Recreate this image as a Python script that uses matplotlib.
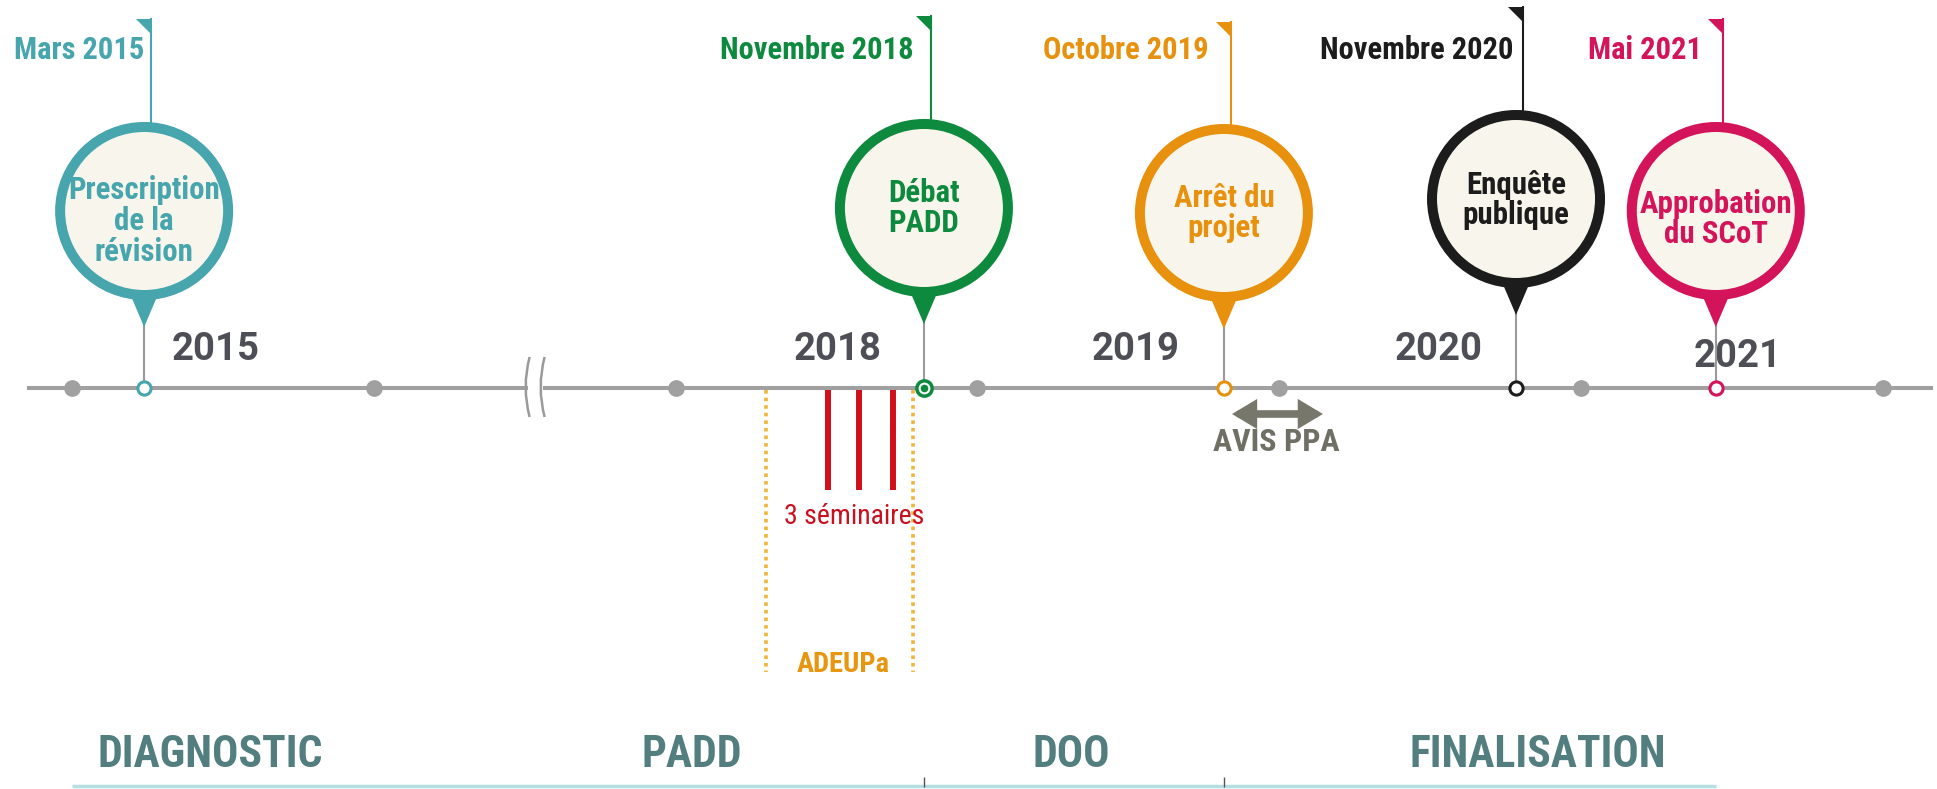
import matplotlib
matplotlib.use('Agg')
import matplotlib.pyplot as plt
from matplotlib import font_manager
from matplotlib.patches import Ellipse, Polygon, FancyArrowPatch, PathPatch
from matplotlib.path import Path

plt.rcParams['font.family'] = ['Roboto', 'DejaVu Sans']

# the original uses a condensed face; use it when installed
installed = {f.name for f in font_manager.fontManager.ttflist}
HAS_COND = 'Roboto Condensed' in installed
COND = ['Roboto Condensed', 'Roboto', 'DejaVu Sans'] if HAS_COND else ['Roboto', 'DejaVu Sans']


def fs(cond_size, reg_size):
    return cond_size if HAS_COND else reg_size


# positions along the timeline, 1 unit = distance between two grey year dots
year_dots = [0, 1, 2, 3, 4, 5, 6]
timeline_span = [-0.149, 6.166]
break_pos = 1.533

years = ['2015', '2018', '2019', '2020', '2021']
year_pos = [0.477, 2.538, 3.524, 4.527, 5.518]

events = ['Prescription\nde la\nrévision', 'Débat\nPADD', 'Arrêt du\nprojet',
          'Enquête\npublique', 'Approbation\ndu SCoT']
event_dates = ['Mars 2015', 'Novembre 2018', 'Octobre 2019', 'Novembre 2020', 'Mai 2021']
event_pos = [0.239, 2.823, 3.817, 4.785, 5.447]
event_colors = ['#46a5ad', '#0e8a3e', '#e8910e', '#1c1c1c', '#d4145a']
event_marker = ['open', 'dot', 'open', 'open', 'open']

seminar_pos = [2.505, 2.608, 2.720]
adeupa_span = [2.300, 2.787]
avis_ppa_span = [3.844, 4.145]

phases = ['DIAGNOSTIC', 'PADD', 'DOO', 'FINALISATION']
phase_pos = [0.457, 2.053, 3.310, 4.858]
phase_span = [0.0, 5.447]
phase_ticks = [2.823, 3.817]

# layout (vertical positions in pixels from the top)
W, H = 1937, 789
XMIN, XMAX = -0.2386, 6.18
ux = (XMAX - XMIN) / W          # x units per pixel
LINE_Y = 388
year_y = [360, 360, 360, 360, 367]
circle_y = [211, 208, 213, 199, 211]
text_dy = [10, 0, 0, 1, 8]
flag_top = [19, 16, 22, 7, 19]
date_gap = [7, 17, 22, 10, 21]
R = 84
grey = '#a0a0a0'

fig = plt.figure(figsize=(W / 100, H / 100), dpi=100)
ax = fig.add_axes([0, 0, 1, 1])
ax.set_xlim(XMIN, XMAX)
ax.set_ylim(H, 0)
ax.axis('off')

# main line with the break
ax.plot([timeline_span[0], break_pos - 7 * ux], [LINE_Y, LINE_Y], color=grey, lw=2.9, solid_capstyle='butt', zorder=2)
ax.plot([break_pos + 8 * ux, timeline_span[1]], [LINE_Y, LINE_Y], color=grey, lw=2.9, solid_capstyle='butt', zorder=2)
for bx in [break_pos - 7 * ux, break_pos + 8 * ux]:
    p = Path([(bx + 2 * ux, 357), (bx - 6 * ux, 387), (bx + 2 * ux, 417)],
             [Path.MOVETO, Path.CURVE3, Path.CURVE3])
    ax.add_patch(PathPatch(p, fc='none', ec='#9a9a9a', lw=1.8, zorder=3))

ax.plot(year_dots, [LINE_Y] * len(year_dots), 'o', ms=11, color=grey, zorder=3)

for yr, xp, yy in zip(years, year_pos, year_y):
    ax.text(xp, yy, yr, ha='center', va='baseline', fontsize=27.5, weight='bold', color='#4e4e56', zorder=2)

# events
for i in range(len(events)):
    x = event_pos[i]
    c = event_colors[i]
    cy = circle_y[i]
    pole_x = x + 7 * ux
    ax.plot([pole_x, pole_x], [flag_top[i], cy - R], color=c, lw=1.5, zorder=3)
    ax.add_patch(Polygon([(pole_x - 15 * ux, flag_top[i]), (pole_x + 1 * ux, flag_top[i]),
                          (pole_x + 1 * ux, flag_top[i] + 16)], closed=True, color=c, lw=0, zorder=3))
    ax.text(pole_x - date_gap[i] * ux, 59, event_dates[i], ha='right', va='baseline',
            fontsize=fs(22, 19.5), weight='bold', color=c, family=COND)
    # stem down to the line
    ax.plot([x, x], [cy + 110, LINE_Y], color='#9a9a9a', lw=1.5, zorder=4)
    # pin
    ax.add_patch(Polygon([(x - 17 * ux, cy + 76), (x + 17 * ux, cy + 76), (x, cy + 116)],
                         closed=True, color=c, lw=0, zorder=4))
    ax.add_patch(Ellipse((x, cy), width=2 * R * ux, height=2 * R, fc='#f8f6ec', ec=c, lw=7.2, zorder=5))
    ax.text(x, cy + text_dy[i], events[i], ha='center', va='center', fontsize=fs(22.2, 19), weight='bold',
            color=c, linespacing=fs(1.03, 0.95), zorder=6, family=COND)
    # marker on the line
    if event_marker[i] == 'dot':
        ax.plot(x, LINE_Y, 'o', ms=11, mfc='white', mec=c, mew=2.5, zorder=6)
        ax.plot(x, LINE_Y, 'o', ms=4.5, color=c, zorder=7)
    else:
        ax.plot(x, LINE_Y, 'o', ms=9.5, mfc='white', mec=c, mew=2.2, zorder=6)

# seminars and ADEUPa
ax.vlines(seminar_pos, LINE_Y + 2, 490, color='#d0101a', lw=4.3, zorder=3)
ax.text(sum(seminar_pos) / 3 - 0.02, 524, '3 séminaires', ha='center', va='baseline',
        fontsize=fs(20, 18), color='#c8101e', zorder=4, family=COND)
ax.vlines(adeupa_span, LINE_Y + 2, 672, color='#f2b53c', lw=2.6, linestyles=(0, (1, 1.1)), zorder=3)
ax.text(sum(adeupa_span) / 2 + 0.012, 672, 'ADEUPa', ha='center', va='baseline',
        fontsize=fs(20.5, 18), weight='bold', color='#e8950f', family=COND)

# AVIS PPA arrow
ax.add_patch(FancyArrowPatch((avis_ppa_span[0], 414), (avis_ppa_span[1], 414),
                             arrowstyle='<|-|>,head_length=0.5,head_width=0.3', mutation_scale=20,
                             lw=5.5, color='#77776b', shrinkA=0, shrinkB=0, joinstyle='miter'))
ax.text(sum(avis_ppa_span) / 2 - 0.005, 451, 'AVIS PPA', ha='center', va='baseline',
        fontsize=fs(23, 19), weight='bold', color='#6f6f65', family=COND)

# phases
ax.plot(phase_span, [786, 786], color='#b5dfe3', lw=2.5, solid_capstyle='butt')
ax.vlines(phase_ticks, 777, 787, color='#555555', lw=1)
for ph, xp in zip(phases, phase_pos):
    ax.text(xp, 767, ph, ha='center', va='baseline', fontsize=fs(31.5, 28), weight='bold',
            color='#527e7f', family=COND)

fig.savefig('out.png', dpi=100, facecolor='white')
